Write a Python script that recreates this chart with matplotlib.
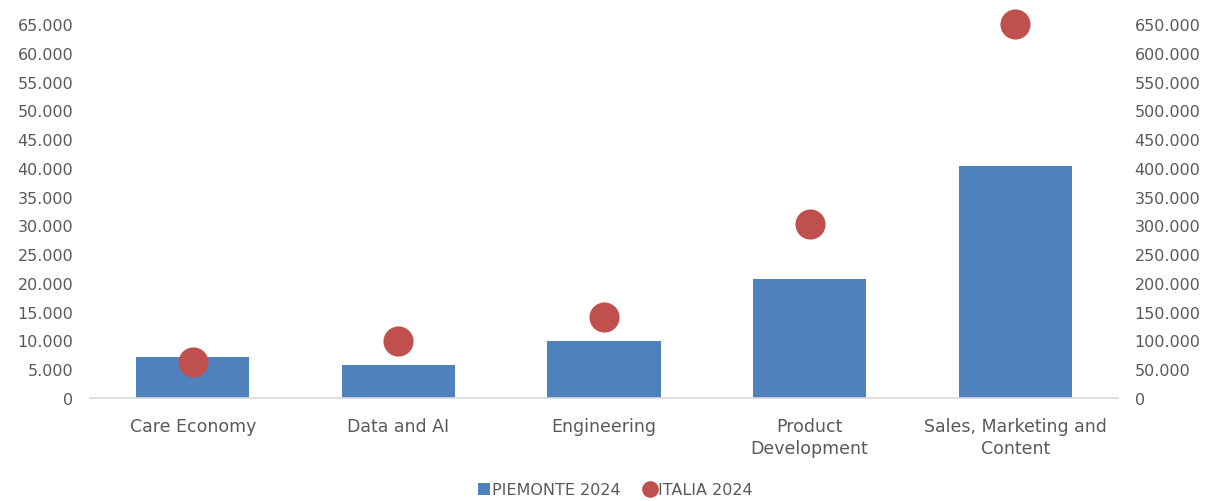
import numpy as np
import matplotlib
matplotlib.use("Agg")
import matplotlib.pyplot as plt
from matplotlib.ticker import FuncFormatter
from matplotlib.lines import Line2D

# data
categories = ["Care Economy", "Data and AI", "Engineering",
              "Product\nDevelopment", "Sales, Marketing and\nContent"]
piemonte_2024 = [7100, 5700, 9900, 20700, 40300]
italia_2024 = [62600, 99000, 140800, 302400, 650000]

left_ticks = np.arange(0, 65001, 5000)
right_ticks = np.arange(0, 650001, 50000)

BAR = "#4F81BD"
DOT = "#C0504D"
TXT = "#595959"

plt.rcParams["font.family"] = ["DejaVu Sans"]

fig = plt.figure(figsize=(12.11, 5.02), dpi=100)
ax = fig.add_axes([90 / 1211, 1 - 399 / 502, 1028 / 1211, 399 / 502])
ax2 = ax.twinx()

x = np.arange(len(categories))
ax.bar(x, piemonte_2024, width=0.55, color=BAR, zorder=2)
ax2.scatter(x, italia_2024, s=470, color=DOT, zorder=3, linewidths=0)

top = 399 / (374 / 65000)
ax.set_ylim(0, top)
ax2.set_ylim(0, top * 10)
ax.set_xlim(-0.5, len(categories) - 0.5)
ax.set_yticks(left_ticks)
ax2.set_yticks(right_ticks)

fmt = FuncFormatter(lambda v, p: f"{int(v):,}".replace(",", "."))
ax.yaxis.set_major_formatter(fmt)
ax2.yaxis.set_major_formatter(fmt)

ax.set_xticks(x)
ax.set_xticklabels(categories, fontsize=12.5, color=TXT, linespacing=1.25)

for a in (ax, ax2):
    for s in a.spines.values():
        s.set_visible(False)
    a.tick_params(axis="y", length=0, labelsize=11.5, labelcolor=TXT)
ax.tick_params(axis="y", pad=12)
ax2.tick_params(axis="y", pad=12)
ax.spines["bottom"].set_visible(True)
ax.spines["bottom"].set_color("#D9D9D9")
ax.spines["bottom"].set_linewidth(1.2)
ax.tick_params(axis="x", length=0, pad=14)

ax.set_zorder(ax2.get_zorder() - 1)
ax.patch.set_visible(False)

handles = [
    Line2D([], [], marker="s", linestyle="none", markersize=8,
           markerfacecolor=BAR, markeredgewidth=0),
    Line2D([], [], marker="o", linestyle="none", markersize=12,
           markerfacecolor=DOT, markeredgewidth=0),
]
fig.legend(handles, ["PIEMONTE 2024", "ITALIA 2024"], loc="center",
           bbox_to_anchor=(615 / 1211, 1 - 491 / 502),
           ncol=2, frameon=False, fontsize=11.5, labelcolor=TXT,
           handlelength=0.8, handletextpad=0.1, columnspacing=1.4)

fig.savefig("out.png", dpi=100)
